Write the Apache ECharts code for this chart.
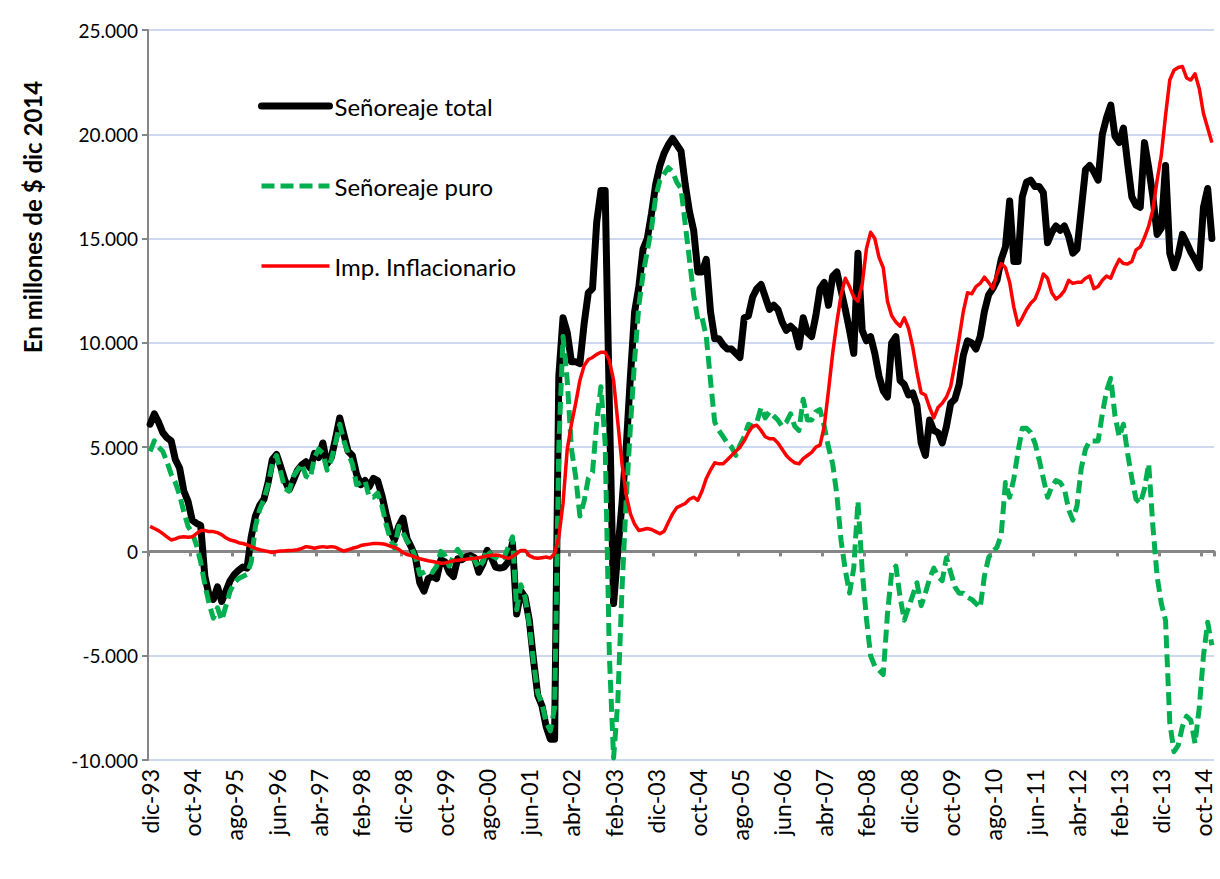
<!DOCTYPE html>
<html><head><meta charset="utf-8">
<script src="https://cdn.jsdelivr.net/npm/echarts/dist/echarts.min.js"></script>
<style>html,body{margin:0;padding:0;background:#fff}#c{width:1220px;height:879px}</style>
</head><body><div id="c"></div><script>
// Month abbreviations used to build the category labels (dic-93 ... dic-14)
const monthNames = ['ene','feb','mar','abr','may','jun','jul','ago','sep','oct','nov','dic'];
const startMonth = 11, startYear = 1993, nMonths = 253;
const categories = [];
for (let k = 0; k < nMonths; k++) {
  const m = (startMonth + k) % 12;
  const y = startYear + Math.floor((startMonth + k) / 12);
  categories.push(monthNames[m] + '-' + String(y % 100).padStart(2, '0'));
}

const seriesNames = ['Señoreaje total', 'Señoreaje puro', 'Imp. Inflacionario'];

const senoreajeTotal = [
  6100, 6600, 6200, 5700, 5450, 5300, 4400, 4000, 2900, 2400,
  1500, 1350, 1250, -1200, -2100, -2300, -1700, -2400, -1900, -1400,
  -1100, -900, -750, -800, 700, 1700, 2200, 2500, 3300, 4400,
  4650, 4050, 3400, 2950, 3400, 3900, 4150, 4300, 4000, 4700,
  4500, 5200, 4200, 4500, 5400, 6400, 5600, 4800, 4600, 3700,
  3200, 3400, 3100, 3500, 3400, 2700, 1800, 1000, 550, 1200,
  1600, 600, 200, -300, -1500, -1900, -1300, -1200, -1300, -400,
  -500, -1000, -1200, -350, -400, -250, -200, -300, -1000, -600,
  50, -300, -750, -800, -750, -500, 400, -3000, -1900, -2200,
  -3300, -5200, -6900, -7400, -8400, -9000, -9000, 8400, 11200, 10500,
  9100, 9100, 9000, 10900, 12400, 12600, 15800, 17300, 17300, 7000,
  -2500, 0, 2300, 5000, 8400, 11500, 12700, 14500, 15000, 16200,
  17600, 18500, 19100, 19500, 19800, 19500, 19200, 17600, 16300, 15400,
  13400, 13400, 14000, 11500, 10200, 10200, 9900, 9700, 9700, 9500,
  9300, 11200, 11300, 12200, 12600, 12800, 12200, 11600, 11800, 11600,
  11000, 10600, 10800, 10600, 9800, 11200, 10500, 10300, 11300, 12600,
  12900, 11800, 13200, 13400, 12500, 11600, 10600, 9500, 14300, 10600,
  10100, 10300, 9500, 8400, 7700, 7400, 10000, 10300, 8200, 8000,
  7500, 7600, 7000, 5200, 4600, 6300, 5800, 5700, 5200, 6000,
  7100, 7300, 8000, 9400, 10100, 10000, 9700, 10300, 11500, 12300,
  12600, 13000, 14000, 14600, 16800, 13900, 13900, 17000, 17700, 17800,
  17500, 17500, 17200, 14800, 15300, 15600, 15400, 15600, 15100, 14300,
  14500, 16400, 18300, 18500, 18200, 17800, 20000, 20800, 21400, 19900,
  19600, 20300, 18600, 17000, 16600, 16500, 19600, 18400, 17000, 15200,
  15500, 18500, 14300, 13600, 14200, 15200, 14800, 14350, 14000, 13600,
  16500, 17400, 15000
];

const senoreajePuro = [
  4800, 5300, 5000, 4800, 4300, 3700, 3300, 2700, 1900, 1200,
  900, 300, -500, -1600, -2500, -3200, -2700, -3300, -2600, -1900,
  -1500, -1300, -1200, -1100, -500, 1200, 2000, 2500, 3200, 4200,
  4600, 3800, 3000, 2900, 3600, 3900, 4200, 3600, 3500, 4500,
  4900, 4700, 3900, 4400, 5200, 6100, 5300, 4700, 4200, 3200,
  3300, 3400, 2600, 2600, 2800, 2200, 1300, 600, 150, 1200,
  900, 500, 200, -300, -1100, -1000, -900, -1000, -700, 0,
  -200, -700, -200, 100, -200, -250, -300, -400, -800, -500,
  100, -200, -300, -450, -300, 200, 700, -2800, -1600, -2200,
  -3500, -5300, -6800, -7300, -8200, -8600, -7500, 5000, 10300, 8200,
  4900, 3600, 1700, 2400, 3500, 3800, 6200, 7900, 5200, -5000,
  -9900, -7200, -1800, 2500, 6000, 9200, 11800, 13300, 14400, 15500,
  17000, 17800, 18100, 18400, 18200, 17700, 17400, 15700, 14000, 12300,
  11100, 11200, 10300, 8200, 6200, 5800, 5500, 5200, 5000, 4600,
  5100, 5500, 6100, 6000, 6200, 6900, 6400, 6700, 6500, 6300,
  6000, 6200, 6600, 6000, 5800, 7300, 6300, 6300, 6700, 6800,
  6000, 5000, 4200, 2700, 500, -900, -2000, -800, 2400, -900,
  -3200, -5000, -5500, -5700, -5900, -3000, -1000, -700, -2200, -3300,
  -2700, -2100, -1500, -2600, -2000, -1300, -800, -1200, -1400, -300,
  -1000, -1700, -2000, -2000, -2200, -2300, -2500, -2700, -1200, -300,
  0, 200, 800, 3300, 2600, 3500, 4800, 5900, 5900, 5700,
  5200, 4400, 3500, 2600, 3100, 3400, 3300, 3000, 2000, 1500,
  2200, 4000, 4900, 5300, 5300, 5300, 6600, 7700, 8300, 6500,
  5500, 6100, 4700, 3500, 2500, 2300, 3000, 4200, 1200, -1200,
  -2500, -3300, -8200, -9600, -9300, -8400, -7900, -8100, -9200, -7500,
  -5000, -3400, -4500
];

const impInflacionario = [
  1200, 1100, 1000, 850, 700, 550, 600, 680, 700, 680,
  700, 850, 1000, 1000, 950, 950, 900, 800, 650, 550,
  500, 420, 380, 320, 230, 150, 80, 40, 0, -50,
  0, 20, 30, 50, 60, 80, 150, 230, 200, 150,
  200, 230, 200, 230, 200, 100, 20, 80, 150, 200,
  280, 320, 350, 380, 380, 370, 330, 250, 200, 100,
  -50, -150, -200, -280, -350, -400, -450, -480, -520, -570,
  -550, -500, -450, -420, -400, -380, -350, -330, -300, -260,
  -220, -180, -170, -200, -270, -330, -250, -100, 50, 50,
  -200, -300, -330, -300, -270, -320, -100, 700, 2300, 4900,
  6100, 7100, 8200, 8900, 9200, 9300, 9450, 9550, 9550, 9150,
  8200, 6200, 4200, 2700, 1800, 1300, 1000, 1050, 1100, 1050,
  950, 850, 970, 1400, 1800, 2100, 2200, 2300, 2500, 2600,
  2450, 2900, 3500, 3900, 4250, 4200, 4200, 4400, 4600, 4800,
  5000, 5300, 5700, 6000, 6050, 5800, 5500, 5400, 5400, 5200,
  4900, 4600, 4400, 4250, 4200, 4450, 4600, 4750, 5000, 5100,
  6000, 7700, 9500, 11000, 12300, 13100, 12700, 12200, 12000, 12800,
  14500, 15300, 15000, 14100, 13600, 12000, 11300, 11000, 10800, 11200,
  10700, 9800, 8600, 7600, 7500, 6900, 6400, 6900, 7100, 7400,
  7900, 9000, 10200, 11500, 12400, 12350, 12700, 12850, 13150, 12900,
  12600, 13300, 13800, 13600, 12900, 11700, 10850, 11200, 11600, 11900,
  12100, 12600, 13300, 13100, 12400, 12100, 12250, 12500, 13000, 12850,
  12900, 12900, 13100, 13200, 12600, 12700, 13000, 13200, 13100, 13600,
  14000, 13800, 13780, 13900, 14460, 14600, 15050, 15600, 16400, 17800,
  19000, 20900, 22600, 23070, 23200, 23250, 22700, 22600, 22900, 22200,
  21000, 20300, 19600
];

const yMin = -10000, yMax = 25000, yStep = 5000;
const yTitle = 'En millones de $ dic 2014';

function fmt(v) {
  const s = Math.abs(v).toString().replace(/\B(?=(\d{3})+(?!\d))/g, '.');
  return (v < 0 ? '-' : '') + s;
}

const FONT = 'Lato';
const chart = echarts.init(document.getElementById('c'), null, { renderer: 'svg' });
chart.setOption({
  animation: false,
  backgroundColor: '#ffffff',
  grid: { left: 148, right: 6, top: 30, bottom: 119, containLabel: false },
  legend: {
    orient: 'vertical', left: 253, top: 89, padding: 5,
    itemWidth: 68, itemHeight: 24, itemGap: 56,
    textStyle: { fontFamily: FONT, fontSize: 24, color: '#000' },
    lineStyle: { width: 'inherit' },
    itemStyle: { opacity: 0, borderWidth: 0 },
    data: seriesNames
  },
  xAxis: [
    {
      type: 'category', data: categories, boundaryGap: true, position: 'bottom',
      axisLine: { show: false, onZero: false },
      axisTick: { show: false },
      axisLabel: { interval: 9, rotate: 90, margin: 9, fontFamily: FONT, fontSize: 23, color: '#000' },
      splitLine: { show: false }
    },
    {
      type: 'category', data: categories, boundaryGap: true, position: 'bottom',
      axisLine: { show: true, onZero: true, lineStyle: { color: '#868686', width: 3 } },
      axisTick: { show: true, interval: 9, length: 5, lineStyle: { color: '#868686', width: 3 } },
      axisLabel: { show: false },
      splitLine: { show: false }
    }
  ],
  yAxis: {
    type: 'value', min: yMin, max: yMax, interval: yStep,
    axisLine: { show: true, lineStyle: { color: '#868686', width: 2 } },
    axisTick: { show: true, length: 6, lineStyle: { color: '#868686', width: 2 } },
    axisLabel: { margin: 10, fontFamily: FONT, fontSize: 19, color: '#000', formatter: fmt },
    splitLine: { show: true, lineStyle: { color: '#bccde9', width: 1.5 } }
  },
  graphic: [{
    type: 'text', x: 32, y: 217, rotation: Math.PI / 2,
    style: { text: yTitle, fontFamily: FONT, fontWeight: 'bold', fontSize: 24, fill: '#000', align: 'center', verticalAlign: 'middle' }
  }],
  series: [
    { name: seriesNames[0], type: 'line', xAxisIndex: 0, data: senoreajeTotal, symbol: 'none', showSymbol: false,
      lineStyle: { color: '#000000', width: 7, join: 'round', cap: 'round' }, itemStyle: { color: '#000000' } },
    { name: seriesNames[1], type: 'line', xAxisIndex: 0, data: senoreajePuro, symbol: 'none', showSymbol: false,
      lineStyle: { color: '#00B050', width: 5, type: [13, 6], join: 'round' }, itemStyle: { color: '#00B050' } },
    { name: seriesNames[2], type: 'line', xAxisIndex: 0, data: impInflacionario, symbol: 'none', showSymbol: false,
      lineStyle: { color: '#FF0000', width: 3.5, join: 'round' }, itemStyle: { color: '#FF0000' } }
  ]
});
</script></body></html>
